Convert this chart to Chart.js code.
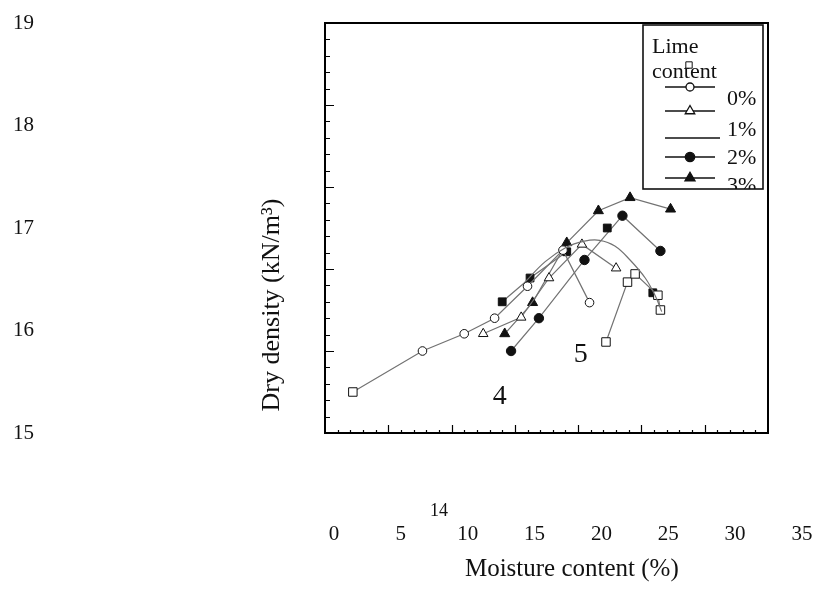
<!DOCTYPE html>
<html>
<head>
<meta charset="utf-8">
<title>Dry density vs moisture content</title>
<script src="https://cdn.jsdelivr.net/npm/chart.js@4.4.1/dist/chart.umd.min.js"></script>
<style>
    html, body { margin: 0; padding: 0; background: #fff; }
</style>
</head>
<body>
<canvas id="myChart" width="831" height="589"></canvas>
<script>
// moisture content (%) / dry density (kN/m3) for each lime content
let lime0_x = [2.2, 7.7, 11.0, 13.4, 16.0, 18.8, 20.9]
let lime0_y = [14.50, 15.00, 15.21, 15.40, 15.79, 16.23, 15.59]
let lime1_x = [12.5, 15.5, 17.7, 20.3, 23.0]
let lime1_y = [15.21, 15.41, 15.89, 16.30, 16.01]
let lime2_x = [14.7, 16.9, 20.5, 23.5, 26.5]
let lime2_y = [15.00, 15.40, 16.11, 16.65, 16.22]
let lime3_x = [14.2, 16.4, 19.1, 21.6, 24.1, 27.3]
let lime3_y = [15.21, 15.59, 16.32, 16.71, 16.87, 16.73]
let solidSq_x = [14.0, 16.2, 19.1, 22.3, 25.9]
let solidSq_y = [15.60, 15.89, 16.21, 16.50, 15.71]
let openSq_x = [22.2, 23.9, 24.5, 26.3, 26.5]
let openSq_y = [15.11, 15.84, 15.94, 15.68, 15.50]
let curve_x = [15.8, 17.4, 19.0, 20.5, 21.7, 22.9, 24.1, 25.3, 26.1, 26.6]
let curve_y = [15.84, 16.09, 16.26, 16.34, 16.35, 16.28, 16.11, 15.89, 15.67, 15.48]

let xTicks = [0, 5, 10, 15, 20, 25, 30, 35]
let yTicks = [15, 16, 17, 18, 19]
let legendLabels = ['0%', '1%', '2%', '3%']

const serif = 'Liberation Serif'
const lineCol = '#727272'

function pts(xs, ys) {
    return xs.map((x, i) => ({x: x, y: ys[i]}))
}

function series(label, xs, ys, style, fill, radius) {
    return {
        label: label,
        data: pts(xs, ys),
        showLine: true,
        borderColor: lineCol,
        borderWidth: 1.2,
        pointStyle: style,
        pointRadius: radius,
        pointBackgroundColor: fill,
        pointBorderColor: '#111',
        pointBorderWidth: 1,
        xAxisID: 'x',
        yAxisID: 'y'
    }
}

let curve = series('', curve_x, curve_y, 'circle', '#fff', 0)
curve.tension = 0.4

let s0 = series(legendLabels[0], lime0_x, lime0_y, 'circle', '#fff', 4.3)
s0.pointStyle = lime0_x.map((v, i) => i == 0 ? 'rect' : 'circle')
s0.pointRadius = lime0_x.map((v, i) => i == 0 ? 6 : 4.3)
let s1 = series(legendLabels[1], lime1_x, lime1_y, 'triangle', '#fff', 5.5)
let sq1 = series('', openSq_x, openSq_y, 'rect', '#fff', 6)
let sq2 = series('', solidSq_x, solidSq_y, 'rect', '#111', 5.5)
sq2.segment = { borderColor: c => c.p1DataIndex > 2 ? 'rgba(0,0,0,0)' : lineCol }
let s2 = series(legendLabels[2], lime2_x, lime2_y, 'circle', '#111', 4.7)
let s3 = series(legendLabels[3], lime3_x, lime3_y, 'triangle', '#111', 5.8)

// box, inward ticks
const frame = {
    id: 'frame',
    beforeDatasetsDraw(chart) {
        const {ctx, chartArea: a} = chart
        const x = chart.scales.x, y = chart.scales.y
        ctx.save()
        ctx.strokeStyle = '#000'
        ctx.lineWidth = 1.2
        ctx.beginPath()
        for (let v = 1; v < 35; v++) {
            let px = Math.round(x.getPixelForValue(v)) + 0.5
            let len = v % 5 ? 3 : 8
            ctx.moveTo(px, a.bottom)
            ctx.lineTo(px, a.bottom - len)
        }
        for (let i = 1; i < 25; i++) {
            let py = Math.round(y.getPixelForValue(14 + i * 0.2)) + 0.5
            let len = i % 5 ? 5 : 9
            ctx.moveTo(a.left, py)
            ctx.lineTo(a.left + len, py)
        }
        ctx.stroke()
        ctx.lineWidth = 2
        ctx.strokeRect(a.left, a.top, a.right - a.left, a.bottom - a.top)
        ctx.restore()
    }
}

// legend box, annotations and axis titles
const extras = {
    id: 'extras',
    afterDatasetsDraw(chart) {
        const {ctx, chartArea: a} = chart
        const x = chart.scales.x, y = chart.scales.y
        const draw = Chart.helpers.drawPoint
        ctx.save()

        let bx = a.right - 125, by = a.top + 2, bw = 120, bh = 164
        ctx.fillStyle = '#fff'
        ctx.fillRect(bx, by, bw, bh)
        ctx.save()
        ctx.beginPath()
        ctx.rect(bx, by, bw, bh)
        ctx.clip()

        ctx.fillStyle = '#111'
        ctx.font = '22px "' + serif + '"'
        ctx.textAlign = 'left'
        ctx.textBaseline = 'alphabetic'
        ctx.fillText('Lime', bx + 9, by + 28)
        ctx.fillText('content', bx + 9, by + 53)
        ctx.fillStyle = '#fff'
        ctx.strokeStyle = '#111'
        draw(ctx, {pointStyle: 'rect', radius: 4.5, borderWidth: 1}, bx + 46, by + 40)

        let rows = [s0, s1, curve, s2, s3]
        let rowY = [62, 86, 113, 132, 153]
        ctx.lineWidth = 1.3
        rows.forEach((ds, i) => {
            let ry = by + rowY[i]
            ctx.strokeStyle = '#111'
            ctx.beginPath()
            ctx.moveTo(bx + 22, ry)
            ctx.lineTo(bx + (ds === curve ? 77 : 72), ry)
            ctx.stroke()
            if (ds !== curve) {
                ctx.fillStyle = ds.pointBackgroundColor
                draw(ctx, {pointStyle: ds === s0 ? 'circle' : ds.pointStyle, radius: ds === s0 ? 4 : ds.pointRadius, borderWidth: 1}, bx + 47, ry)
            }
        })
        ctx.fillStyle = '#111'
        let labY = [80, 111, 139, 167]
        legendLabels.forEach((t, i) => ctx.fillText(t, bx + 84, by + labY[i]))
        ctx.restore()

        ctx.strokeStyle = '#111'
        ctx.lineWidth = 1.6
        ctx.strokeRect(bx, by, bw, bh)
        ctx.restore()

        ctx.save()
        ctx.fillStyle = '#111'
        ctx.textAlign = 'center'
        ctx.textBaseline = 'middle'
        ctx.font = '28px "' + serif + '"'
        ctx.fillText('4', x.getPixelForValue(13.8), y.getPixelForValue(14.44))
        ctx.fillText('5', x.getPixelForValue(20.2), y.getPixelForValue(14.95))
        ctx.font = '18px "' + serif + '"'
        ctx.fillText('14', x.getPixelForValue(9.0), a.bottom + 78)

        ctx.font = '25px "' + serif + '"'
        ctx.fillText('Moisture content (%)', x.getPixelForValue(19.5), a.bottom + 136)
        ctx.font = '26px "' + serif + '"'
        ctx.translate(a.left - 53, a.bottom - 128)
        ctx.rotate(-Math.PI / 2)
        ctx.fillText('Dry density (kN/m³)', 0, 0)
        ctx.restore()
    }
}

let chart = new Chart(document.getElementById('myChart'), {
    type: 'scatter',
    data: {
        datasets: [curve, s0, s1, sq1, sq2, s2, s3]
    },
    options: {
        responsive: false,
        animation: false,
        layout: { padding: { left: 13, top: 23, right: 63, bottom: 0 } },
        plugins: { legend: { display: false }, tooltip: { enabled: false } },
        scales: {
            x: { type: 'linear', min: 0, max: 35, display: false },
            y: { type: 'linear', min: 14, max: 19, display: false },
            xLab: {
                type: 'linear', axis: 'x', position: 'bottom',
                min: -0.67, max: 32.46,
                grid: { display: false, drawTicks: true, tickLength: 89 },
                border: { display: false },
                ticks: { autoSkip: false, maxRotation: 0, padding: 0, color: '#111', font: { family: serif, size: 21 } },
                afterBuildTicks: s => { s.ticks = xTicks.map(v => ({value: v})) },
                afterFit: s => { s.height = 156 }
            },
            yLab: {
                type: 'linear', axis: 'y', position: 'left',
                min: 15, max: 19,
                grid: { display: false, drawTicks: false },
                border: { display: false },
                ticks: { crossAlign: 'far', padding: 0, color: '#111', font: { family: serif, size: 21 } },
                afterBuildTicks: s => { s.ticks = yTicks.map(v => ({value: v})) },
                afterFit: s => { s.width = 312 }
            }
        }
    },
    plugins: [frame, extras]
})
</script>
</body>
</html>
